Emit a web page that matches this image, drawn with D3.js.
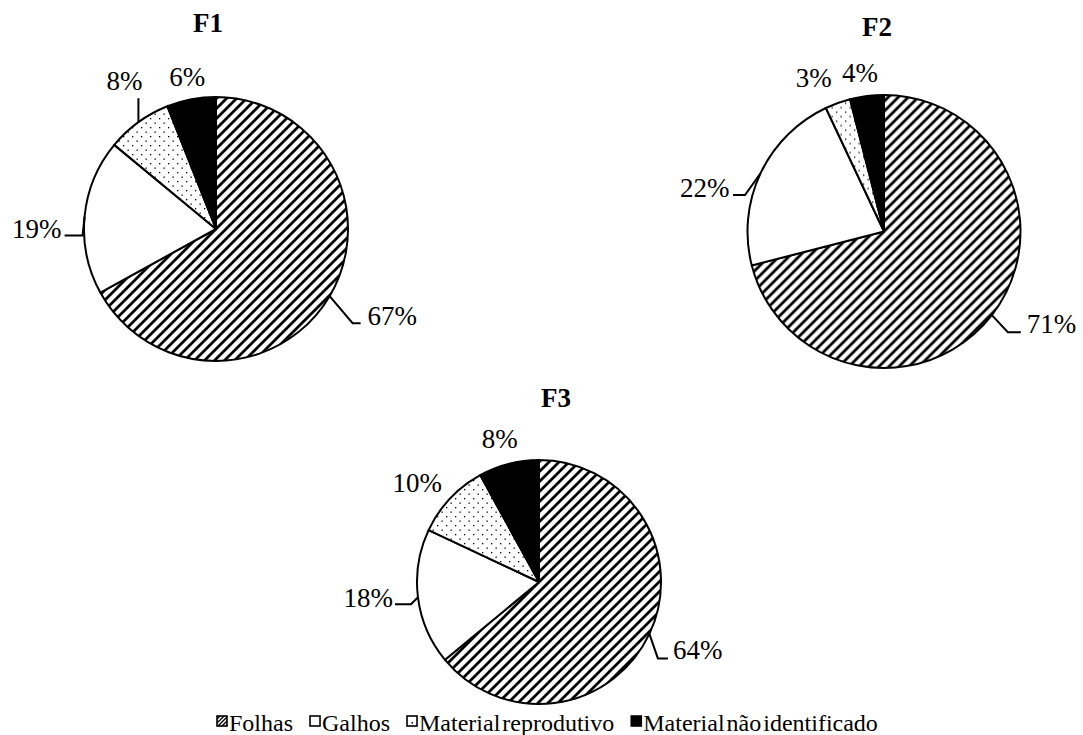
<!DOCTYPE html>
<html><head><meta charset="utf-8">
<script src="https://cdn.jsdelivr.net/npm/d3@7"></script>
<style>
html,body{margin:0;padding:0;background:#fff;}
svg text{font-family:"Liberation Serif","Times New Roman",serif;fill:#000;}
</style></head><body>
<svg id="chart" width="1083" height="735"></svg>
<script>
// ---- data ----
const categories = ["Folhas", "Galhos", "Material reprodutivo", "Material não identificado"];
const panelNames = ["F1", "F2", "F3"];
const valuesF1 = [67, 19, 8, 6];
const valuesF2 = [71, 22, 3, 4];
const valuesF3 = [64, 18, 10, 8];
const panelValues = [valuesF1, valuesF2, valuesF3];

// ---- layout (positions / styles only) ----
const layout = [
  { cx: 216, cy: 229, r: 132, tx: 208, ty: 32,
    labels: [
      { pts: [[23, 27], [31, 27]], text: [38, 29], anchor: "start" },
      { pts: [[-2, 19], [-20, 19]], text: [-23, 21], anchor: "end" },
      { pts: [[0, -24]], text: [4, -32], anchor: "end" },
      { pts: [], text: [-4, -13], anchor: "middle" }
    ] },
  { cx: 884, cy: 231.5, r: 136.5, tx: 877, ty: 36,
    labels: [
      { pts: [[16, 17], [29, 17]], text: [35, 18], anchor: "start" },
      { pts: [[-15.5, 21.6], [-27.5, 21.6]], text: [-31, 24], anchor: "end" },
      { pts: [], text: [-6, -16], anchor: "end" },
      { pts: [], text: [-7, -14], anchor: "middle" }
    ] },
  { cx: 539, cy: 582, r: 122, tx: 556, ty: 407,
    labels: [
      { pts: [[8.5, 24.5], [18.5, 24.5]], text: [23.5, 25.5], anchor: "start" },
      { pts: [[-7, 7], [-23, 7]], text: [-25, 10], anchor: "end" },
      { pts: [], text: [-8, -7], anchor: "end" },
      { pts: [], text: [-9, -16], anchor: "middle" }
    ] }
];
const fills = ["url(#hatch)", "#ffffff", "url(#dots)", "#000000"];
const legendFills = ["url(#hatchSmall)", "#ffffff", "url(#dotSmall)", "#000000"];
const labelFont = 27, titleFont = 27, legendFont = 24;

const svg = d3.select("#chart");
svg.append("rect").attr("width", 1083).attr("height", 735).attr("fill", "#fff");

// patterns
const defs = svg.append("defs");
const hatch = defs.append("pattern").attr("id", "hatch").attr("patternUnits", "userSpaceOnUse")
  .attr("width", 10).attr("height", 10);
hatch.append("rect").attr("width", 10).attr("height", 10).attr("fill", "#fff");
hatch.append("path").attr("d", "M-2,2 L2,-2 M0,10 L10,0 M8,12 L12,8")
  .attr("stroke", "#000").attr("stroke-width", 2.8);
const hs = defs.append("pattern").attr("id", "hatchSmall").attr("patternUnits", "userSpaceOnUse")
  .attr("width", 4).attr("height", 4);
hs.append("rect").attr("width", 4).attr("height", 4).attr("fill", "#fff");
hs.append("path").attr("d", "M-1,1 L1,-1 M0,4 L4,0 M3,5 L5,3")
  .attr("stroke", "#000").attr("stroke-width", 1.3);
const dots = defs.append("pattern").attr("id", "dots").attr("patternUnits", "userSpaceOnUse")
  .attr("width", 9).attr("height", 9);
dots.append("rect").attr("width", 9).attr("height", 9).attr("fill", "#fff");
dots.append("rect").attr("x", 1.5).attr("y", 1.5).attr("width", 1.3).attr("height", 1.3).attr("fill", "#000");
dots.append("rect").attr("x", 6).attr("y", 6).attr("width", 1.3).attr("height", 1.3).attr("fill", "#000");
const ds = defs.append("pattern").attr("id", "dotSmall").attr("patternUnits", "objectBoundingBox")
  .attr("width", 1).attr("height", 1);
ds.append("rect").attr("width", 10).attr("height", 10).attr("fill", "#fff");
ds.append("rect").attr("x", 4.5).attr("y", 6).attr("width", 1.5).attr("height", 1.5).attr("fill", "#000");

const pie = d3.pie().sort(null).value(d => d);

panelValues.forEach((vals, pi) => {
  const L = layout[pi];
  const g = svg.append("g").attr("transform", `translate(${L.cx},${L.cy})`);
  const arc = d3.arc().innerRadius(0).outerRadius(L.r);
  const arcs = pie(vals);
  g.selectAll("path.slice").data(arcs).join("path")
    .attr("class", "slice")
    .attr("d", arc)
    .attr("fill", (d, i) => fills[i])
    .attr("stroke", "#000").attr("stroke-width", 2).attr("stroke-linejoin", "round");

  arcs.forEach((d, i) => {
    const mid = (d.startAngle + d.endAngle) / 2;
    const p = [L.r * Math.sin(mid), -L.r * Math.cos(mid)];
    const lab = L.labels[i];
    if (lab.pts.length) {
      const line = [p].concat(lab.pts.map(q => [p[0] + q[0], p[1] + q[1]]));
      g.append("path").attr("d", d3.line()(line))
        .attr("fill", "none").attr("stroke", "#000").attr("stroke-width", 2);
    }
    g.append("text")
      .attr("x", p[0] + lab.text[0]).attr("y", p[1] + lab.text[1])
      .attr("text-anchor", lab.anchor)
      .attr("font-size", labelFont)
      .text(d3.format(".0f")(d.data) + "%");
  });

  svg.append("text").attr("x", L.tx).attr("y", L.ty)
    .attr("text-anchor", "middle").attr("font-size", titleFont).attr("font-weight", "bold")
    .text(panelNames[pi]);
});

// legend
const lg = svg.append("g").attr("transform", "translate(217,731)");
let x = 0;
categories.forEach((c, i) => {
  lg.append("rect").attr("x", x).attr("y", -15).attr("width", 10).attr("height", 10)
    .attr("fill", legendFills[i]).attr("stroke", "#000").attr("stroke-width", 1.6);
  const t = lg.append("text").attr("x", x + 12).attr("y", 0)
    .attr("font-size", legendFont).attr("word-spacing", -4).text(c);
  x += 12 + t.node().getComputedTextLength() + 17;
});
</script>
</body></html>
